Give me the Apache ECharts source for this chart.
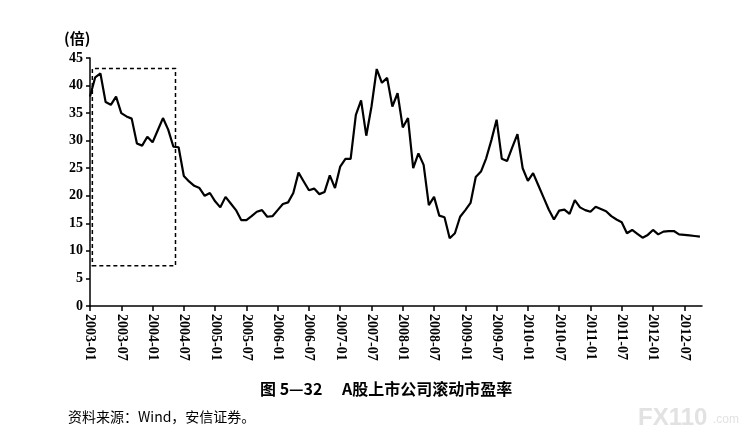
<!DOCTYPE html>
<html>
<head>
<meta charset="utf-8">
<script src="https://cdn.jsdelivr.net/npm/echarts@6/dist/echarts.min.js"></script>
<style>
  html, body { margin: 0; padding: 0; background: #fff; }
  #main { width: 741px; height: 437px; }
</style>
</head>
<body>
<div id="main"></div>
<script>
// A股上市公司滚动市盈率, monthly from 2003-01 to 2012-10
var peValues = [
  38.0, 41.5, 42.2, 37.0, 36.5, 38.0, 35.0, 34.4, 34.0, 29.5, 29.1, 30.7,
  29.7, 31.9, 34.1, 32.0, 28.9, 28.8, 23.6, 22.6, 21.8, 21.4, 20.0, 20.5,
  19.0, 17.9, 19.8, 18.6, 17.4, 15.6, 15.6, 16.3, 17.1, 17.4, 16.2, 16.3,
  17.4, 18.5, 18.8, 20.5, 24.2, 22.6, 21.0, 21.3, 20.3, 20.7, 23.7, 21.4,
  25.3, 26.7, 26.7, 34.7, 37.3, 30.9, 36.2, 43.0, 40.5, 41.4, 36.2, 38.6,
  32.4, 34.1, 25.0, 27.7, 25.6, 18.3, 19.8, 16.4, 16.1, 12.3, 13.2, 16.2,
  17.4, 18.7, 23.4, 24.4, 26.8, 30.1, 33.8, 26.7, 26.3, 28.8, 31.2, 25.0,
  22.7, 24.1, 21.9, 19.7, 17.5, 15.7, 17.3, 17.5, 16.7, 19.2, 17.9, 17.4,
  17.1, 18.0, 17.6, 17.2, 16.3, 15.7, 15.2, 13.2, 13.8, 13.1, 12.4, 12.9,
  13.8, 13.0, 13.5, 13.6, 13.6, 13.0, 12.9, 12.8, 12.7, 12.6
];

// x tick labels, one every 6 months
var tickLabels = [
  '2003-01', '2003-07', '2004-01', '2004-07', '2005-01', '2005-07',
  '2006-01', '2006-07', '2007-01', '2007-07', '2008-01', '2008-07',
  '2009-01', '2009-07', '2010-01', '2010-07', '2011-01', '2011-07',
  '2012-01', '2012-07'
];
var tickStep = 6;

// dashed box around 2003-01 .. 2004-05 (month index / PE)
var boxMonths = [0.45, 16.4];
var boxPE = [7.3, 43.1];

var tickValues = tickLabels.map(function (_, i) { return i * tickStep; });

var serif = '"Liberation Serif", "Times New Roman", serif';
var cjk = '"Noto Sans CJK SC", sans-serif';

var myChart = echarts.init(document.getElementById('main'));
myChart.setOption({
  animation: false,
  backgroundColor: '#fff',
  grid: { left: 90, right: 39, top: 58, bottom: 131 },
  graphic: [
    {
      type: 'text', left: 64, top: 31,
      style: { text: '(倍)', font: 'bold 15px ' + cjk, fill: '#000' }
    },
    {
      type: 'text', left: 260, top: 381,
      style: { text: '图 5—32　 A股上市公司滚动市盈率', font: 'bold 16px ' + cjk, fill: '#000' }
    },
    {
      type: 'text', left: 68, top: 410,
      style: { text: '资料来源：Wind，安信证券。', font: '14px ' + cjk, fill: '#000' }
    },
    {
      type: 'text', left: 638, top: 406,
      style: { text: 'FX110', font: 'bold 24px "Liberation Sans", sans-serif', fill: '#e2e2e2' }
    },
    {
      type: 'text', left: 713, top: 414,
      style: { text: '.com', font: '12px "Liberation Sans", sans-serif', fill: '#e2e2e2' }
    }
  ],
  xAxis: {
    type: 'value',
    min: 0,
    max: 117.4,
    splitLine: { show: false },
    axisLine: { lineStyle: { color: '#000', width: 1.5 } },
    axisTick: {
      customValues: tickValues,
      length: 5,
      lineStyle: { color: '#000', width: 1.5 }
    },
    axisLabel: {
      customValues: tickValues,
      rotate: -90,
      margin: 8,
      color: '#000',
      fontFamily: serif,
      fontWeight: 'bold',
      fontSize: 14,
      formatter: function (v) { return tickLabels[Math.round(v / tickStep)]; }
    }
  },
  yAxis: {
    type: 'value',
    min: 0,
    max: 45,
    interval: 5,
    splitLine: { show: false },
    axisLine: { show: true, lineStyle: { color: '#000', width: 1.5 } },
    axisTick: { show: true, length: 4, lineStyle: { color: '#000', width: 1.5 } },
    axisLabel: {
      margin: 7,
      color: '#000',
      fontFamily: serif,
      fontWeight: 'bold',
      fontSize: 14
    }
  },
  series: [{
    type: 'line',
    data: peValues.map(function (v, i) { return [i, v]; }),
    showSymbol: false,
    lineStyle: { color: '#000', width: 2.2 },
    markArea: {
      silent: true,
      itemStyle: {
        color: 'rgba(0,0,0,0)',
        borderColor: '#000',
        borderWidth: 1.5,
        borderType: [4, 3]
      },
      data: [[
        { xAxis: boxMonths[0], yAxis: boxPE[0] },
        { xAxis: boxMonths[1], yAxis: boxPE[1] }
      ]]
    }
  }]
});
</script>
</body>
</html>
